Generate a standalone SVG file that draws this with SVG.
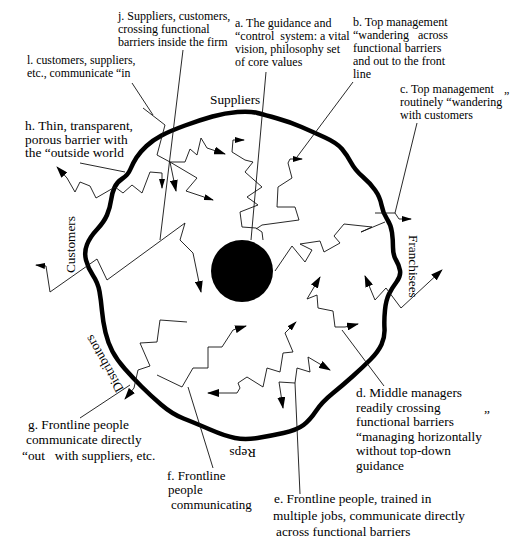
<svg xmlns="http://www.w3.org/2000/svg" width="523" height="545" viewBox="0 0 523 545" xml:space="preserve">
<style>
.t{font-family:"Liberation Serif","Times New Roman",serif;fill:#000;font-size:12px;white-space:pre}
.m{font-size:13.3px}
.c{fill:none;stroke:#111;stroke-width:0.9}
.blob{fill:none;stroke:#000;stroke-width:4.5;stroke-linejoin:round}
</style>
<defs>
<marker id="ah" viewBox="0 0 12 8" refX="11" refY="4" markerWidth="12" markerHeight="8" markerUnits="userSpaceOnUse" orient="auto-start-reverse"><path d="M0,0 L12,4 L0,8 z" fill="#000"/></marker>
<marker id="as" viewBox="0 0 10 6" refX="9" refY="3" markerWidth="10" markerHeight="6" markerUnits="userSpaceOnUse" orient="auto-start-reverse"><path d="M0,0 L10,3 L0,6 z" fill="#000"/></marker>
</defs>
<rect width="523" height="545" fill="#fff"/>

<g id="firm-boundary">
<path class="blob" d="M111,200.5 Q112,193 114.5,187.5 Q117,182 122.5,178.5 Q128,175 130.5,169 Q133,163 136.5,157.5 Q140,152 146.5,146 Q153,140 161.5,135.5 Q170,131 185,125.5 Q200,120 212.5,116.5 Q225,113 237.5,112 Q250,111 257.5,113 Q265,115 277.5,118.5 Q290,122 301.5,127 Q313,132 325,137.5 Q337,143 342,149 Q347,155 351,162.5 Q355,170 362.5,176.5 Q370,183 375,190 Q380,197 381.5,205 Q383,213 387,219 Q391,225 392,232.5 Q393,240 393,247.5 Q393,255 396,260 Q399,265 400,270.5 Q401,276 396.5,282 Q392,288 389,294 Q386,300 385,310 Q384,320 384.5,328.5 Q385,337 381.5,344.5 Q378,352 370.5,359.5 Q363,367 353,376 Q343,385 332.5,393.5 Q322,402 316,411 Q310,420 303.5,425 Q297,430 283.5,433 Q270,436 257.5,438 Q245,440 235,438 Q225,436 210,429.5 Q195,423 183.5,418.5 Q172,414 161,404.5 Q150,395 141.5,386.5 Q133,378 125,369 Q117,360 112.5,351.5 Q108,343 105.5,332.5 Q103,322 102,311 Q101,300 99.5,291.5 Q98,283 93,275.5 Q88,268 86,260 Q84,252 87,244.5 Q90,237 97,229.5 Q104,222 107,215 Q110,208 111,200.5 Z"/>
</g>

<g id="core">
<circle cx="242" cy="271" r="31" fill="#000"/>
</g>

<g id="connectors">
<path class="c" d="M183,50 L160,240"/>
<path class="c" d="M132,83 L153,115"/>
<path class="c" d="M266,72 L251,240"/>
<path class="c" d="M353,82 L297,157"/>
<path class="c" d="M417,123 L395,213"/>
<path class="c" d="M80,163 L125,172"/>
<path class="c" d="M384,386 L342,330"/>
<path class="c" d="M300,494 L295,383"/>
<path class="c" d="M213,468 L188,387"/>
<path class="c" d="M80,418 L130,385"/>
<path class="c" marker-end="url(#as)" d="M263,240 L262,232 L256,228 L242,227 L240,212 L258,205 L247,197 L262,187 L245,172 L253,162 L245,160 L232,152 L233,140 L244,140"/>
<path class="c" marker-end="url(#as)" d="M256,229 L262,225 L299,220 L295,207 L277,207 L278,187 L292,178 L288,163 L290,159 L302,159"/>
<path class="c" d="M275,271 L292,246 L305,262 L312,250 L300,244 L320,241 L324,252 L340,243 L334,236 L344,224 L372,227 L361,232 L385,222"/>
<path class="c" marker-start="url(#ah)" marker-end="url(#ah)" d="M365,276 L375,300 L386,288 L401,308 L442,270"/>
<path class="c" marker-end="url(#as)" d="M375,213 L395,213 L399,219 L411,219"/>
<path class="c" marker-start="url(#ah)" marker-end="url(#as)" d="M208,393 L237,393 L240,388 L238,383 L247,377 L263,387 L267,368 L280,372 L283,353 L293,352 L285,333 L296,322"/>
<path class="c" marker-start="url(#ah)" marker-end="url(#ah)" d="M320,277 L307,299 L317,295 L318,308 L333,311 L335,327 L345,327 L358,324"/>
<path class="c" marker-start="url(#ah)" marker-end="url(#ah)" d="M283,408 L279,382 L295,383 L297,368 L310,372 L308,357 L330,370"/>
<path class="c" marker-end="url(#ah)" d="M157,375 L182,387 L193,368 L208,368 L208,347 L222,347 L233,330 L246,326"/>
<path class="c" marker-end="url(#ah)" d="M187,322 L160,320 L157,342 L140,343 L150,366 L138,370 L134,388 L125,399"/>
<path class="c" marker-start="url(#ah)" marker-end="url(#as)" d="M57,167 L67,178 L75,192 L80,182 L90,186 L96,198 L115,187 L123,193 L132,185 L142,193 L150,172 L162,173 L162,188"/>
<path class="c" marker-start="url(#as)" marker-end="url(#ah)" d="M36,265 L46,266 L50,292 L97,259 L107,280 L185,223 L180,240 L193,253 L201,292"/>
<path class="c" marker-end="url(#as)" d="M143,108 L165,125 L157,155 L170,162 L197,178 L186,191 L213,200"/>
<path class="c" marker-end="url(#ah)" d="M170,162 L176,191"/>
<path class="c" marker-end="url(#ah)" d="M170,162 L185,162 L190,149 L197,155 L201,138 L207,148 L225,154"/>
</g>

<g id="side-suppliers"><text class="t m" x="210" y="104">Suppliers</text></g>
<g id="side-customers"><text class="t m" transform="translate(75,273) rotate(-90)">Customers</text></g>
<g id="side-franchisees"><text class="t m" transform="translate(409,235) rotate(90)">Franchisees</text></g>
<g id="side-distributors"><text class="t m" transform="translate(124,389) rotate(-120)">Distributors</text></g>
<g id="side-reps"><text class="t m" transform="translate(256,449) rotate(180)">Reps</text></g>

<g id="label-j"><text class="t" x="118" y="20">j. Suppliers, customers,</text><text class="t" x="118" y="33">crossing functional</text><text class="t" x="118" y="46">barriers inside the firm</text></g>
<g id="label-a"><text class="t" x="235" y="27">a. The guidance and</text><text class="t" x="235" y="40">“control  system: a vital</text><text class="t" x="235" y="53">vision, philosophy set</text><text class="t" x="235" y="66">of core values</text></g>
<g id="label-b"><text class="t" x="353" y="26">b. Top management</text><text class="t" x="353" y="39">“wandering   across</text><text class="t" x="353" y="52">functional barriers</text><text class="t" x="353" y="65">and out to the front</text><text class="t" x="353" y="78">line</text></g>
<g id="label-c"><text class="t" x="400" y="93">c. Top management</text><text class="t" x="504" y="93">„</text><text class="t" x="400" y="106">routinely “wandering</text><text class="t" x="400" y="119">with customers</text></g>
<g id="label-l"><text class="t" style="font-size:11.8px" x="27" y="64">l. customers, suppliers,</text><text class="t" style="font-size:11.8px" x="27" y="77">etc., communicate “in</text></g>
<g id="label-h"><text class="t" style="font-size:13.4px" x="25" y="130">h. Thin, transparent,</text><text class="t" style="font-size:13.4px" x="25" y="143.5">porous barrier with</text><text class="t" style="font-size:13.4px" x="25" y="157">the “outside world</text></g>
<g id="label-d"><text class="t m" x="356" y="397">d. Middle managers</text><text class="t m" x="356" y="412">readily crossing</text><text class="t m" x="484" y="412">„</text><text class="t m" x="356" y="426">functional barriers</text><text class="t m" x="356" y="441">“managing horizontally</text><text class="t m" x="356" y="455">without top-down</text><text class="t m" x="356" y="470">guidance</text></g>
<g id="label-e"><text class="t m" x="274" y="503">e. Frontline people, trained in</text><text class="t m" x="273" y="520">multiple jobs, communicate directly</text><text class="t m" x="276" y="536">across functional barriers</text></g>
<g id="label-f"><text class="t" style="font-size:13px" x="167" y="480">f. Frontline</text><text class="t" style="font-size:13px" x="168" y="494">people</text><text class="t" style="font-size:13px" x="171" y="509">communicating</text></g>
<g id="label-g"><text class="t m" x="28" y="429">g. Frontline people</text><text class="t m" x="26" y="444">communicate directly</text><text class="t m" x="22" y="460">“out   with suppliers, etc.</text></g>
</svg>
